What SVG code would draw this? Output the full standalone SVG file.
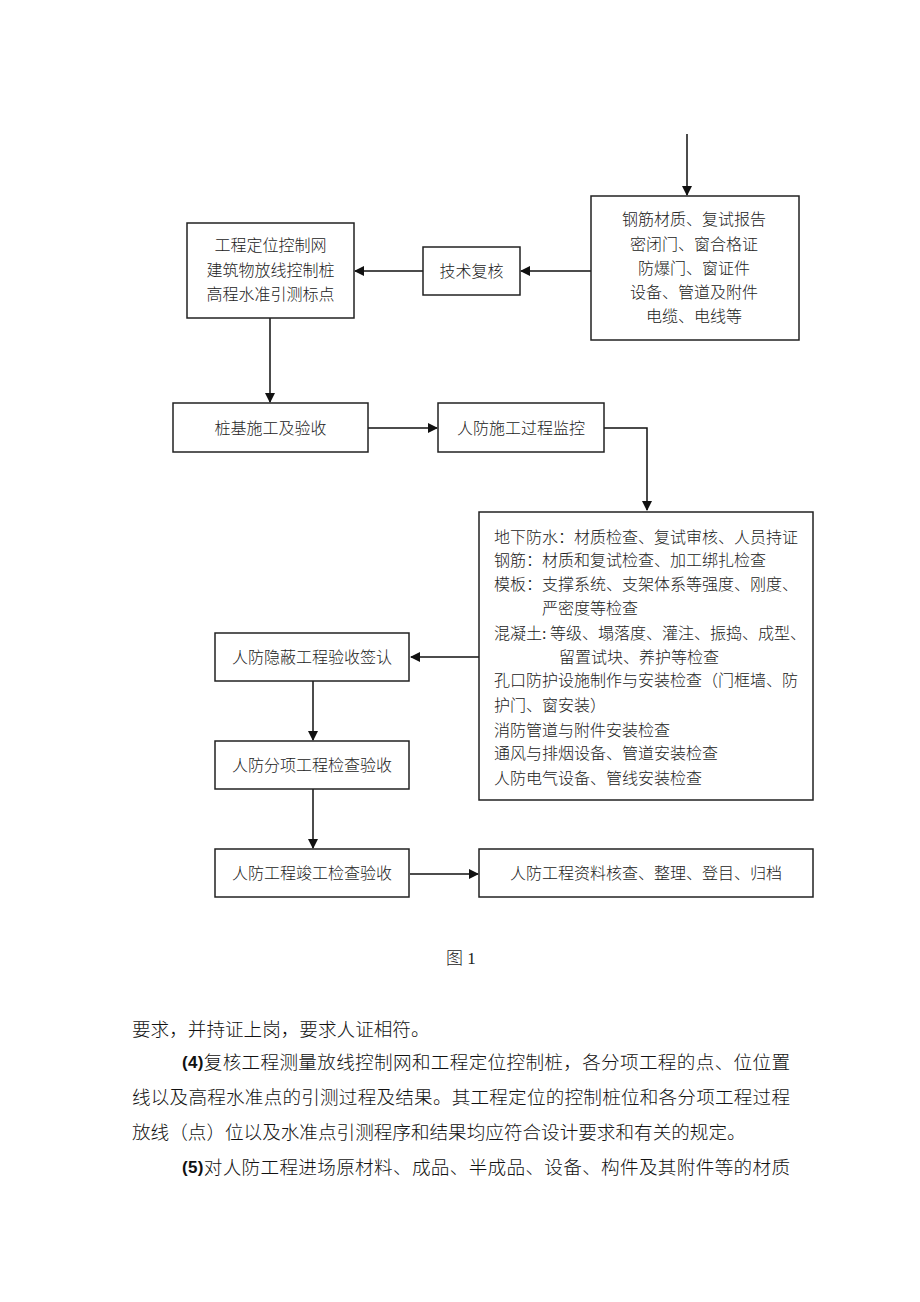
<svg xmlns="http://www.w3.org/2000/svg" width="920" height="1302" viewBox="0 0 920 1302">
<style>
.box{fill:#fff;stroke:#222;stroke-width:1.5}
.t{font-family:"Liberation Serif","Noto Sans CJK SC",serif;font-size:16px;font-weight:300;fill:#222;dominant-baseline:central}
.c{text-anchor:middle}
.ln{fill:none;stroke:#111;stroke-width:1.5}
.body{font-family:"Liberation Serif","Noto Sans CJK SC",serif;font-size:18.6px;font-weight:300;fill:#111;dominant-baseline:central}
.b{font-family:"Liberation Sans",sans-serif;font-weight:bold;font-size:17px}
</style>
<defs>
<marker id="ah" markerWidth="10" markerHeight="10" refX="9" refY="5" orient="auto" markerUnits="userSpaceOnUse">
<path d="M0,0 L10,5 L0,10 Z" fill="#111"/>
</marker>
</defs>
<rect width="920" height="1302" fill="#fff"/>

<g id="connectors">
<line class="ln" x1="687" y1="134" x2="687" y2="195" marker-end="url(#ah)"/>
<line class="ln" x1="591" y1="271" x2="521" y2="271" marker-end="url(#ah)"/>
<line class="ln" x1="423" y1="271" x2="355" y2="271" marker-end="url(#ah)"/>
<line class="ln" x1="270" y1="318" x2="270" y2="402" marker-end="url(#ah)"/>
<line class="ln" x1="368" y1="428" x2="437" y2="428" marker-end="url(#ah)"/>
<polyline class="ln" points="604,428 647,428 647,510" marker-end="url(#ah)"/>
<line class="ln" x1="479" y1="657" x2="411" y2="657" marker-end="url(#ah)"/>
<line class="ln" x1="313" y1="681" x2="313" y2="740" marker-end="url(#ah)"/>
<line class="ln" x1="313" y1="789" x2="313" y2="848" marker-end="url(#ah)"/>
<line class="ln" x1="410" y1="874" x2="478" y2="874" marker-end="url(#ah)"/>
</g>

<g id="n-materials">
<rect class="box" x="591" y="196" width="208" height="144"/>
<text class="t c" x="694" y="219">钢筋材质、复试报告</text>
<text class="t c" x="694" y="244">密闭门、窗合格证</text>
<text class="t c" x="694" y="268">防爆门、窗证件</text>
<text class="t c" x="694" y="292">设备、管道及附件</text>
<text class="t c" x="694" y="316">电缆、电线等</text>
</g>

<g id="n-review">
<rect class="box" x="423" y="247" width="97" height="48"/>
<text class="t c" x="471.5" y="271">技术复核</text>
</g>

<g id="n-control">
<rect class="box" x="187" y="223" width="167" height="95"/>
<text class="t c" x="270.5" y="245">工程定位控制网</text>
<text class="t c" x="270.5" y="270">建筑物放线控制桩</text>
<text class="t c" x="270.5" y="294">高程水准引测标点</text>
</g>

<g id="n-pile">
<rect class="box" x="173" y="403" width="195" height="49"/>
<text class="t c" x="270.5" y="428">桩基施工及验收</text>
</g>

<g id="n-monitor">
<rect class="box" x="438" y="403" width="166" height="49"/>
<text class="t c" x="521" y="428">人防施工过程监控</text>
</g>

<g id="n-checks">
<rect class="box" x="479" y="512" width="334" height="288"/>
<text class="t" x="494" y="537">地下防水：材质检查、复试审核、人员持证</text>
<text class="t" x="494" y="560">钢筋：材质和复试检查、加工绑扎检查</text>
<text class="t" x="494" y="584">模板：支撑系统、支架体系等强度、刚度、</text>
<text class="t" x="542" y="608">严密度等检查</text>
<text class="t" x="494" y="633">混凝土<tspan>:</tspan><tspan x="550">等级、塌落度、灌注、振捣、成型、</tspan></text>
<text class="t" x="559" y="657">留置试块、养护等检查</text>
<text class="t" x="494" y="680">孔口防护设施制作与安装检查（门框墙、防</text>
<text class="t" x="494" y="705">护门、窗安装）</text>
<text class="t" x="494" y="730">消防管道与附件安装检查</text>
<text class="t" x="494" y="753">通风与排烟设备、管道安装检查</text>
<text class="t" x="494" y="778">人防电气设备、管线安装检查</text>
</g>

<g id="n-hidden">
<rect class="box" x="215" y="633" width="194" height="48"/>
<text class="t c" x="312" y="657">人防隐蔽工程验收签认</text>
</g>

<g id="n-sub">
<rect class="box" x="215" y="741" width="194" height="48"/>
<text class="t c" x="312" y="765">人防分项工程检查验收</text>
</g>

<g id="n-final">
<rect class="box" x="215" y="849" width="194" height="48"/>
<text class="t c" x="312" y="873">人防工程竣工检查验收</text>
</g>

<g id="n-archive">
<rect class="box" x="479" y="849" width="334" height="48"/>
<text class="t c" x="646" y="873">人防工程资料核查、整理、登目、归档</text>
</g>

<g id="caption">
<text class="t" x="446" y="958" style="font-size:17px">图 1</text>
</g>

<g id="body">
<text class="body" x="132" y="1029">要求，并持证上岗，要求人证相符。</text>
<text class="body" x="182" y="1062" textLength="608" lengthAdjust="spacing"><tspan class="b">(4)</tspan>复核工程测量放线控制网和工程定位控制桩，各分项工程的点、位位置</text>
<text class="body" x="132" y="1097" textLength="658" lengthAdjust="spacing">线以及高程水准点的引测过程及结果。其工程定位的控制桩位和各分项工程过程</text>
<text class="body" x="132" y="1132">放线（点）位以及水准点引测程序和结果均应符合设计要求和有关的规定。</text>
<text class="body" x="182" y="1167" textLength="608" lengthAdjust="spacing"><tspan class="b">(5)</tspan>对人防工程进场原材料、成品、半成品、设备、构件及其附件等的材质</text>
</g>
</svg>
